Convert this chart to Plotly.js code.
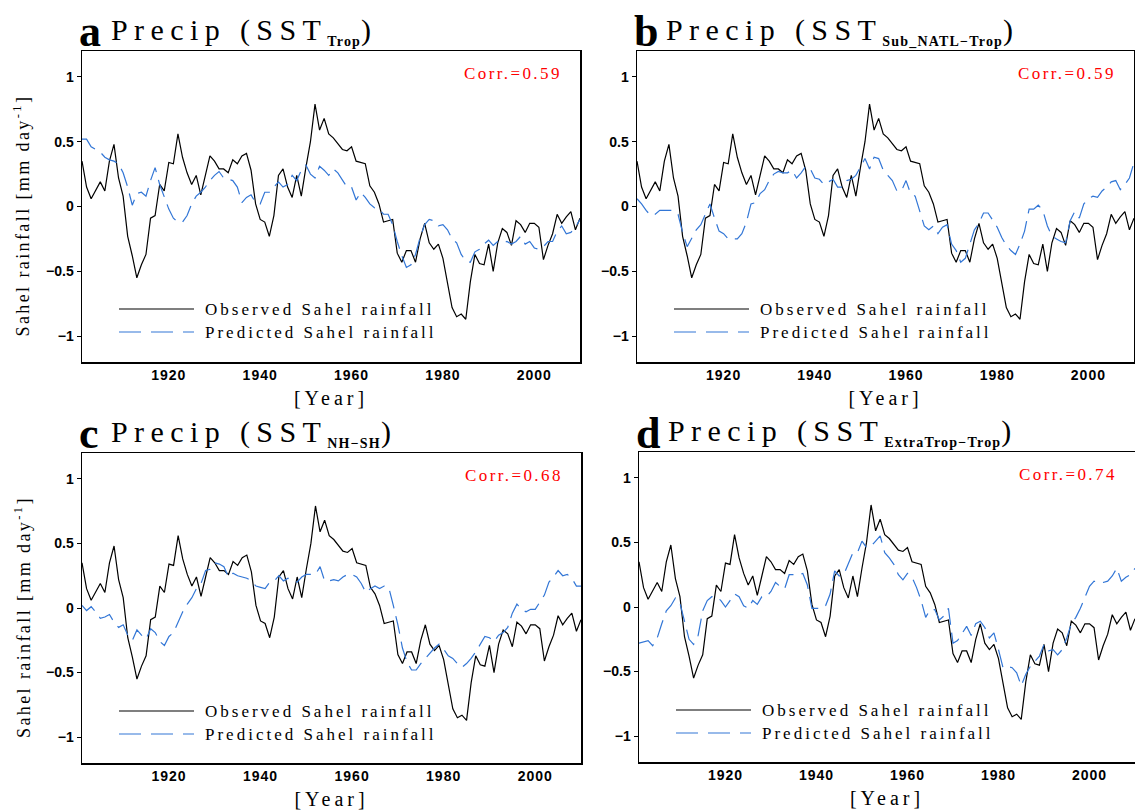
<!DOCTYPE html>
<html><head><meta charset="utf-8">
<script src="https://cdn.plot.ly/plotly-3.0.1.min.js"></script>
<style>html,body{margin:0;padding:0;background:#fff}</style>
</head><body><div id="chart" style="width:1135px;height:812px"></div>
<script>
// ---- data ----
const years = [];
for (let y = 1901; y <= 2010; y++) years.push(y);

const observed = [0.35,0.15,0.06,0.12,0.19,0.12,0.35,0.48,0.22,0.08,
-0.23,-0.38,-0.55,-0.45,-0.37,-0.09,-0.07,0.17,0.12,0.34,
0.33,0.56,0.38,0.26,0.17,0.24,0.09,0.24,0.39,0.35,
0.29,0.29,0.26,0.36,0.33,0.39,0.41,0.28,0.02,-0.10,
-0.12,-0.23,-0.07,0.24,0.29,0.15,0.07,0.24,0.08,0.30,
0.50,0.79,0.59,0.68,0.56,0.53,0.48,0.44,0.43,0.46,
0.35,0.34,0.33,0.16,0.11,0.02,-0.12,-0.11,-0.10,-0.36,
-0.43,-0.34,-0.34,-0.43,-0.25,-0.13,-0.28,-0.33,-0.29,-0.40,
-0.58,-0.78,-0.85,-0.83,-0.87,-0.58,-0.37,-0.44,-0.45,-0.29,
-0.50,-0.28,-0.17,-0.20,-0.30,-0.11,-0.14,-0.20,-0.13,-0.13,
-0.16,-0.41,-0.30,-0.21,-0.06,-0.13,-0.08,-0.04,-0.18,-0.09];

const predTrop = [0.52,0.52,0.46,0.44,0.42,0.38,0.36,0.35,0.33,0.26,
0.15,0.01,0.10,0.11,0.08,0.20,0.30,0.17,0.07,-0.02,
-0.09,-0.12,-0.12,-0.07,0.02,0.08,0.11,0.15,0.20,0.24,
0.27,0.22,0.21,0.20,0.15,0.03,0.07,0.09,0.03,0.02,
0.11,0.11,0.15,0.19,0.15,0.17,0.24,0.20,0.28,0.32,
0.25,0.22,0.31,0.28,0.24,0.29,0.26,0.20,0.15,0.15,
0.05,0.11,0.07,0.02,-0.01,-0.02,-0.06,-0.06,-0.14,-0.27,
-0.38,-0.47,-0.45,-0.37,-0.24,-0.14,-0.10,-0.11,-0.15,-0.14,
-0.18,-0.25,-0.28,-0.37,-0.42,-0.43,-0.35,-0.33,-0.29,-0.26,
-0.30,-0.27,-0.28,-0.27,-0.29,-0.27,-0.23,-0.29,-0.27,-0.32,
-0.33,-0.31,-0.27,-0.27,-0.19,-0.15,-0.21,-0.20,-0.16,-0.10];

const predSubNatl = [0.06,0.02,-0.03,-0.07,-0.06,-0.03,-0.03,-0.03,-0.03,-0.06,
-0.20,-0.31,-0.24,-0.18,-0.14,-0.06,0.02,-0.09,-0.19,-0.21,
-0.25,-0.25,-0.25,-0.21,-0.12,0.02,0.03,0.10,0.13,0.20,
0.25,0.27,0.26,0.26,0.28,0.22,0.26,0.31,0.29,0.22,
0.21,0.17,0.19,0.21,0.15,0.15,0.20,0.21,0.24,0.31,
0.37,0.29,0.38,0.37,0.28,0.24,0.20,0.12,0.12,0.20,
0.10,0.08,-0.03,-0.15,-0.18,-0.15,-0.21,-0.16,-0.14,-0.29,
-0.34,-0.43,-0.40,-0.29,-0.18,-0.13,-0.05,-0.05,-0.10,-0.16,
-0.24,-0.30,-0.34,-0.37,-0.29,-0.19,-0.02,-0.02,0.01,-0.03,
-0.15,-0.23,-0.25,-0.27,-0.28,-0.11,-0.04,-0.09,0.02,0.06,
0.08,0.07,0.12,0.15,0.19,0.20,0.13,0.17,0.22,0.34];

const predNhSh = [0.02,-0.02,0.01,-0.03,-0.08,-0.07,-0.05,-0.11,-0.15,-0.13,
-0.21,-0.25,-0.17,-0.21,-0.24,-0.16,-0.19,-0.26,-0.29,-0.22,
-0.19,-0.11,-0.03,0.03,0.08,0.15,0.19,0.29,0.30,0.35,
0.34,0.32,0.24,0.27,0.25,0.24,0.23,0.21,0.17,0.16,
0.15,0.20,0.21,0.25,0.21,0.23,0.21,0.20,0.24,0.26,
0.26,0.26,0.32,0.21,0.21,0.22,0.21,0.24,0.26,0.26,
0.24,0.19,0.12,0.15,0.17,0.15,0.17,0.16,0.02,-0.13,
-0.31,-0.42,-0.48,-0.48,-0.43,-0.39,-0.35,-0.31,-0.28,-0.32,
-0.37,-0.39,-0.43,-0.46,-0.43,-0.39,-0.34,-0.28,-0.22,-0.23,
-0.26,-0.21,-0.19,-0.15,-0.04,0.03,-0.01,-0.03,-0.01,-0.01,
0.05,0.10,0.20,0.24,0.29,0.25,0.26,0.23,0.17,0.17];

const predExtraTrop = [-0.28,-0.27,-0.26,-0.30,-0.24,-0.13,-0.03,0.01,0.07,0.03,
-0.12,-0.25,-0.29,-0.22,-0.03,0.05,0.08,0.08,0.05,0.00,
0.05,0.10,0.08,0.01,-0.01,0.05,0.02,0.08,0.08,0.12,
0.19,0.16,0.14,0.25,0.25,0.25,0.26,0.17,-0.01,-0.01,
-0.01,0.01,0.10,0.28,0.24,0.25,0.33,0.42,0.42,0.51,
0.46,0.47,0.51,0.55,0.42,0.38,0.33,0.25,0.21,0.26,
0.23,0.15,0.05,-0.08,-0.02,-0.02,-0.10,-0.07,-0.01,-0.28,
-0.26,-0.20,-0.15,-0.22,-0.13,-0.11,-0.16,-0.24,-0.20,-0.33,
-0.47,-0.46,-0.47,-0.51,-0.61,-0.52,-0.46,-0.42,-0.38,-0.29,
-0.34,-0.33,-0.37,-0.33,-0.24,-0.13,-0.08,-0.01,0.07,0.16,
0.20,0.19,0.19,0.20,0.24,0.30,0.20,0.23,0.25,0.30];

const panelLetters = ['a','b','c','d'];
const panelSubs = ['Trop','Sub_NATL\u2212Trop','NH\u2212SH','ExtraTrop\u2212Trop'];
const corrLabels = ['Corr.=0.59','Corr.=0.59','Corr.=0.68','Corr.=0.74'];
const predictions = [predTrop, predSubNatl, predNhSh, predExtraTrop];
const legendNames = ['Observed Sahel rainfall','Predicted Sahel rainfall'];
const xTicks = [1920,1940,1960,1980,2000];
const yTicks = [-1,-0.5,0,0.5,1];

// ---- layout geometry (pixels) ----
const W = 1135, H = 812;
const boxes = [
  {l:82, r:580, t:51, b:362},
  {l:637, r:1134, t:51, b:362},
  {l:82, r:581, t:453, b:763},
  {l:639, r:1135, t:452, b:762}
];
const px = x => x / W;
const py = y => 1 - y / H;
const spaced = (t, ls) => '<span style="letter-spacing:' + ls + 'px">' + t + '</span>';
const SERIF = 'Liberation Serif, Times New Roman, serif';
const SANS = 'Liberation Sans, Arial, sans-serif';

const BLUE = '#3276d6';
const traces = [];
const layout = {
  width: W, height: H,
  margin: {l:0, r:0, t:0, b:0},
  paper_bgcolor: '#fff', plot_bgcolor: '#fff',
  showlegend: false,
  annotations: [], shapes: []
};

boxes.forEach((bx, i) => {
  const n = i === 0 ? '' : String(i + 1);
  traces.push({x: years, y: observed, type: 'scatter', mode: 'lines',
    xaxis: 'x' + n, yaxis: 'y' + n, name: legendNames[0],
    line: {color: '#000', width: 1.2}});
  traces.push({x: years, y: predictions[i], type: 'scatter', mode: 'lines',
    xaxis: 'x' + n, yaxis: 'y' + n, name: legendNames[1],
    line: {color: BLUE, width: 1.2, dash: '18px,8px'}});

  layout['xaxis' + n] = {
    domain: [px(bx.l), px(bx.r)], range: [1901, 2010], anchor: 'y' + n,
    tickvals: xTicks, ticktext: xTicks.map(v => spaced(String(v), 1)),
    ticks: '', showgrid: false, zeroline: false,
    showline: true, mirror: true, linecolor: '#000', linewidth: 1.5,
    tickfont: {family: SANS, size: 14, color: '#000', weight: 'bold'},
    title: {text: spaced('[Year]', 4), standoff: 8,
      font: {family: SERIF, size: 20, color: '#000'}}
  };
  layout['yaxis' + n] = {
    domain: [py(bx.b), py(bx.t)], range: [-1.2, 1.2], anchor: 'x' + n,
    tickvals: yTicks, ticks: 'outside', ticklen: 4, tickcolor: '#000',
    showgrid: false, zeroline: false,
    showline: true, mirror: true, linecolor: '#000', linewidth: 1.5,
    tickfont: {family: SANS, size: 14, color: '#000', weight: 'bold'}
  };

  // y-axis title (left panels only)
  if (i % 2 === 0) {
    layout.annotations.push({xref: 'paper', yref: 'paper', x: px(22), y: py((bx.t + bx.b) / 2 + 9),
      xanchor: 'center', yanchor: 'middle', showarrow: false, textangle: -90,
      text: spaced('Sahel rainfall [mm day<sup>-1</sup>]', 2.4),
      font: {family: SERIF, size: 18, color: '#000'}});
  }

  // panel letter and title
  const titleY = bx.t - 19;
  layout.annotations.push({xref: 'paper', yref: 'paper', x: px(bx.l - 5), y: py(titleY),
    xanchor: 'left', yanchor: 'middle', showarrow: false,
    text: '<b>' + panelLetters[i] + '</b>',
    font: {family: SERIF, size: 44, color: '#000'}});
  layout.annotations.push({xref: 'paper', yref: 'paper', x: px(bx.l + 27), y: py(titleY - 1),
    xanchor: 'left', yanchor: 'middle', showarrow: false,
    text: spaced('Precip (SST', 6.4) + '<sub><span style="font-weight:bold;font-size:14px;letter-spacing:1.2px">' + panelSubs[i] + '</span></sub>)',
    font: {family: SERIF, size: 30, color: '#000'}});

  // correlation
  layout.annotations.push({xref: 'paper', yref: 'paper', x: px(bx.r - 16), y: py(bx.t + 22),
    xanchor: 'right', yanchor: 'middle', showarrow: false, text: spaced(corrLabels[i], 2.4),
    font: {family: SERIF, size: 17, color: '#ff0000'}});

  // legend
  const ly1 = bx.t + 258, ly2 = bx.t + 281;
  layout.shapes.push({type: 'line', xref: 'paper', yref: 'paper',
    x0: px(bx.l + 37), x1: px(bx.l + 112), y0: py(ly1), y1: py(ly1),
    line: {color: '#000', width: 1.2}});
  layout.shapes.push({type: 'line', xref: 'paper', yref: 'paper',
    x0: px(bx.l + 37), x1: px(bx.l + 112), y0: py(ly2), y1: py(ly2),
    line: {color: BLUE, width: 1.2, dash: '22px,10px'}});
  [ly1, ly2].forEach((ly, k) => {
    layout.annotations.push({xref: 'paper', yref: 'paper', x: px(bx.l + 121), y: py(ly),
      xanchor: 'left', yanchor: 'middle', showarrow: false, text: spaced(legendNames[k], 3),
      font: {family: SERIF, size: 17, color: '#000'}});
  });
});

Plotly.newPlot('chart', traces, layout, {displayModeBar: false, staticPlot: true});
</script>
</body></html>
